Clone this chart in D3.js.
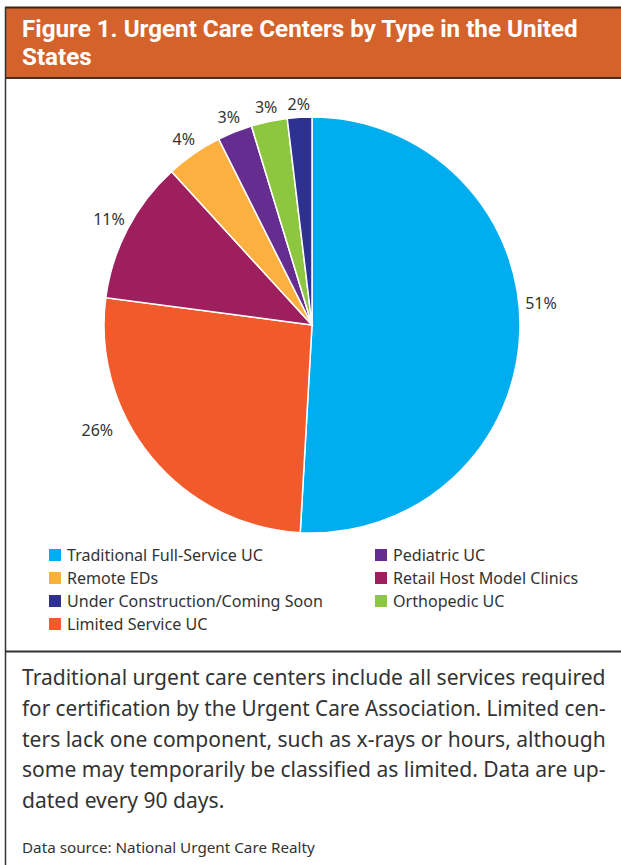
<!DOCTYPE html>
<html>
<head>
<meta charset="utf-8">
<script src="https://cdn.jsdelivr.net/npm/d3@7"></script>
<style>
  body { margin: 0; background: #fff; }
  svg { display: block; font-family: "Noto Sans", "Open Sans", sans-serif; }
</style>
</head>
<body>
<svg id="chart" width="621" height="865"></svg>
<script>
// data (shares in percent, clockwise from 12 o'clock)
var categories = ["Traditional Full-Service UC", "Limited Service UC", "Retail Host Model Clinics",
                  "Remote EDs", "Pediatric UC", "Orthopedic UC", "Under Construction/Coming Soon"];
var shares = [50.9, 26.2, 11.1, 4.4, 2.7, 2.8, 1.9];
var colors = ["#00aeef", "#f15a2b", "#9e1f5e", "#fbb040", "#662d91", "#8dc63f", "#2e3192"];
var legendCol1 = ["Traditional Full-Service UC", "Remote EDs", "Under Construction/Coming Soon", "Limited Service UC"];
var legendCol2 = ["Pediatric UC", "Retail Host Model Clinics", "Orthopedic UC"];

var titleLines = ["Figure 1. Urgent Care Centers by Type in the United", "States"];
var noteLines = [
  "Traditional urgent care centers include all services required",
  "for certification by the Urgent Care Association. Limited cen-",
  "ters lack one component, such as x-rays or hours, although",
  "some may temporarily be classified as limited. Data are up-",
  "dated every 90 days."
];
var sourceText = "Data source: National Urgent Care Realty";

var W = 621, H = 865;
var svg = d3.select("#chart");

// squeeze a block of lines horizontally so the reference line hits the target width
// (each text gets x/y = 0 and is placed by its transform)
function condense(sel, refWidth, justifyAll) {
    var nodes = sel.nodes();
    var factor = refWidth / nodes[0].getComputedTextLength();
    nodes.forEach(function (n, i) {
        var f = factor;
        if (justifyAll && i < nodes.length - 1) f = refWidth / n.getComputedTextLength();
        var s = d3.select(n);
        var x = +s.attr("x"), y = +s.attr("y");
        s.attr("x", 0).attr("y", 0)
         .attr("transform", "translate(" + x + "," + y + ") scale(" + f + ",1)");
    });
}

// title bar
svg.append("rect")
    .attr("x", 5).attr("y", 7).attr("width", W - 5).attr("height", 71)
    .attr("fill", "#d4622b");
svg.append("line").attr("x1", 5).attr("x2", W).attr("y1", 7.5).attr("y2", 7.5)
    .attr("stroke", "#3a2418").attr("stroke-width", 2);
svg.append("line").attr("x1", 5).attr("x2", W).attr("y1", 78).attr("y2", 78)
    .attr("stroke", "#4a2c1c").attr("stroke-width", 2);

var title = svg.append("g").selectAll("text")
    .data(titleLines).enter().append("text")
    .attr("x", 22)
    .attr("y", function (d, i) { return 37 + i * 28; })
    .attr("fill", "#fff")
    .attr("font-family", "Roboto, 'Noto Sans', sans-serif")
    .attr("font-size", 23)
    .attr("font-weight", "bold")
    .text(function (d) { return d; });
condense(title, 556, false);

// frame lines
svg.append("line").attr("x1", 5.5).attr("x2", 5.5).attr("y1", 7).attr("y2", H)
    .attr("stroke", "#333").attr("stroke-width", 1.5);
svg.append("line").attr("x1", 5).attr("x2", W).attr("y1", 651.5).attr("y2", 651.5)
    .attr("stroke", "#333").attr("stroke-width", 2);

// pie
var cx = 312, cy = 325, R = 208;
var pie = d3.pie().sort(null).value(function (d) { return d; });
var arcs = pie(shares);
var arc = d3.arc().innerRadius(0).outerRadius(R);

var pieG = svg.append("g").attr("transform", "translate(" + cx + "," + cy + ")");
pieG.selectAll("path")
    .data(arcs).enter().append("path")
    .attr("d", arc)
    .attr("fill", function (d, i) { return colors[i]; })
    .attr("stroke", "#fff")
    .attr("stroke-width", 1.5);

// labels: outside the rim, with a couple of hand nudges as in the original
var nudge = { 0: { da: -7, dr: 0 }, 1: { da: 13.5, dr: 10 } };
var fmt = d3.format(".0f");
pieG.selectAll("text.lab")
    .data(arcs).enter().append("text")
    .attr("class", "lab")
    .attr("text-anchor", "middle")
    .attr("font-size", 16)
    .attr("fill", "#333")
    .attr("transform", function (d, i) {
        var n = nudge[i] || { da: 0, dr: 0 };
        var a = (d.startAngle + d.endAngle) / 2 + n.da * Math.PI / 180;
        var r = 221 + 9 * Math.abs(Math.sin(a)) + n.dr;
        return "translate(" + (r * Math.sin(a)) + "," + (-r * Math.cos(a) + 6) + ")";
    })
    .text(function (d) { return fmt(d.data) + "%"; });

// legend
var colorOf = d3.scaleOrdinal().domain(categories).range(colors);
var legend = svg.append("g");
var legendText = [];
[legendCol1, legendCol2].forEach(function (col, c) {
    var g = legend.append("g").attr("transform", "translate(" + (c === 0 ? 49 : 375) + ",549)");
    var items = g.selectAll("g").data(col).enter().append("g")
        .attr("transform", function (d, i) { return "translate(0," + i * 23 + ")"; });
    items.append("rect").attr("width", 12).attr("height", 12)
        .attr("fill", function (d) { return colorOf(d); });
    items.append("text").attr("x", 18).attr("y", 11.5)
        .attr("font-size", 16).attr("fill", "#333")
        .text(function (d) { return d; })
        .each(function () { legendText.push(this); });
});
condense(d3.selectAll(legendText), 196, false);

// note
var note = svg.append("g").selectAll("text")
    .data(noteLines).enter().append("text")
    .attr("x", 22)
    .attr("y", function (d, i) { return 685 + i * 30.8; })
    .attr("font-size", 21.5)
    .attr("fill", "#333")
    .text(function (d) { return d; });
condense(note, 584, true);

var src = svg.append("text")
    .attr("x", 22).attr("y", 853)
    .attr("font-size", 15)
    .attr("fill", "#333")
    .text(sourceText);
condense(src, 293, false);
</script>
</body>
</html>
